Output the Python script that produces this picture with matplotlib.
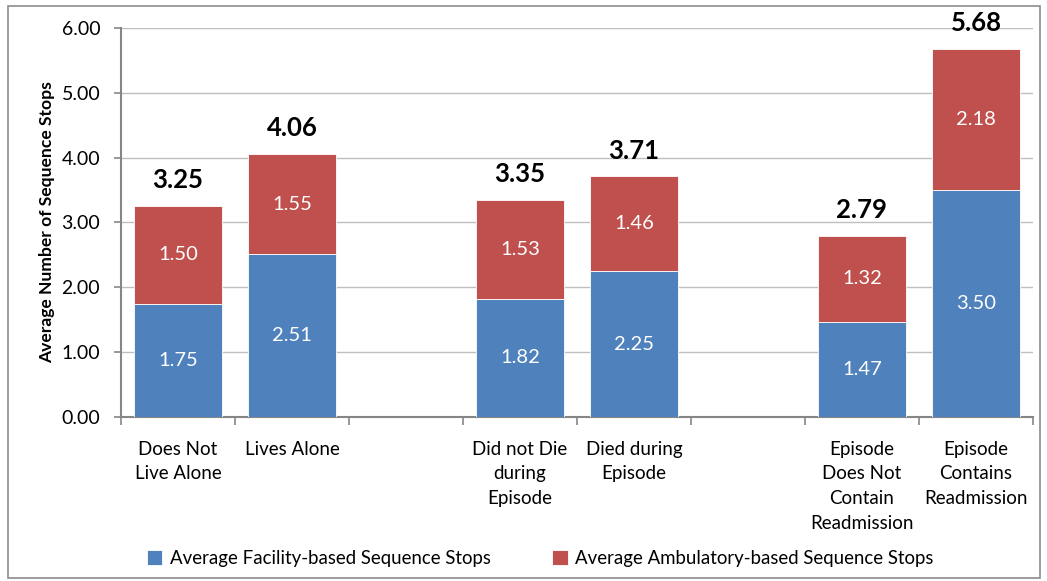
import numpy as np
import matplotlib
matplotlib.use("Agg")
import matplotlib.pyplot as plt
from matplotlib.patches import Rectangle

plt.rcParams['font.family'] = ['Lato', 'DejaVu Sans']

categories = ["Does Not\nLive Alone", "Lives Alone", "",
              "Did not Die\nduring\nEpisode", "Died during\nEpisode", "",
              "Episode\nDoes Not\nContain\nReadmission", "Episode\nContains\nReadmission"]
facility = [1.75, 2.51, None, 1.82, 2.25, None, 1.47, 3.50]
ambulatory = [1.50, 1.55, None, 1.53, 1.46, None, 1.32, 2.18]
totals = [3.25, 4.06, None, 3.35, 3.71, None, 2.79, 5.68]
series_names = ["Average Facility-based Sequence Stops",
                "Average Ambulatory-based Sequence Stops"]

blue = "#4F81BD"
red = "#C0504D"
grey = "#868686"

fig = plt.figure(figsize=(10.47, 5.81), dpi=100)
ax = fig.add_axes([0.1156, 0.2823, 0.8710, 0.6695])

x = np.arange(len(categories))
idx = [i for i in x if facility[i] is not None]
fac = np.array([facility[i] for i in idx])
amb = np.array([ambulatory[i] for i in idx])
tot = np.array([totals[i] for i in idx])

b1 = ax.bar(idx, fac, width=0.77, color=blue, edgecolor="white", linewidth=0.6, zorder=3)
b2 = ax.bar(idx, amb, bottom=fac, width=0.77, color=red, edgecolor="white", linewidth=0.6, zorder=3)

for xi, f, a, t in zip(idx, fac, amb, tot):
    ax.text(xi, f / 2, f"{f:.2f}", ha="center", va="center", color="white", fontsize=14.5, zorder=4)
    ax.text(xi, f + a / 2, f"{a:.2f}", ha="center", va="center", color="white", fontsize=14.5, zorder=4)
    ax.text(xi, t + 0.40, f"{t:.2f}", ha="center", va="center", color="black",
            fontsize=18.5, fontweight="bold", zorder=4, clip_on=False)

ax.set_xlim(-0.5, len(categories) - 0.5)
ax.set_ylim(0, 6)
ax.set_yticks(np.arange(0, 6.01, 1))
ax.set_yticklabels([f"{v:.2f}" for v in np.arange(0, 6.01, 1)], fontsize=14)
ax.yaxis.grid(True, color="#BFBFBF", linewidth=1, zorder=0)
ax.set_axisbelow(True)

ax.set_xticks(np.arange(-0.5, len(categories), 1))
ax.set_xticklabels([])
ax.set_xticks(x, minor=True)
ax.set_xticklabels(categories, minor=True, fontsize=13.5, linespacing=1.55)
ax.tick_params(axis="x", which="minor", length=0, pad=17)
ax.tick_params(axis="x", which="major", length=6, color=grey, width=1.2)
ax.tick_params(axis="y", length=5, color=grey, width=1.2, pad=10)

for s in ["top", "right"]:
    ax.spines[s].set_visible(False)
for s in ["left", "bottom"]:
    ax.spines[s].set_color(grey)
    ax.spines[s].set_linewidth(1.5)

ax.set_ylabel("Average Number of Sequence Stops", fontsize=12.6, fontweight="bold")
ax.yaxis.set_label_coords(-0.072, 0.5)

fig.legend([b1, b2], series_names, loc="lower left", bbox_to_anchor=(0.124, -0.004),
           ncol=2, frameon=False, fontsize=13.4, handlelength=0.85, handleheight=0.85,
           handletextpad=0.4, columnspacing=3.3)

fig.patches.append(Rectangle((0.008, 0.005), 0.985, 0.985, transform=fig.transFigure,
                             fill=False, edgecolor="#8C8C8C", linewidth=1.2))

fig.savefig("out.png", dpi=100)
